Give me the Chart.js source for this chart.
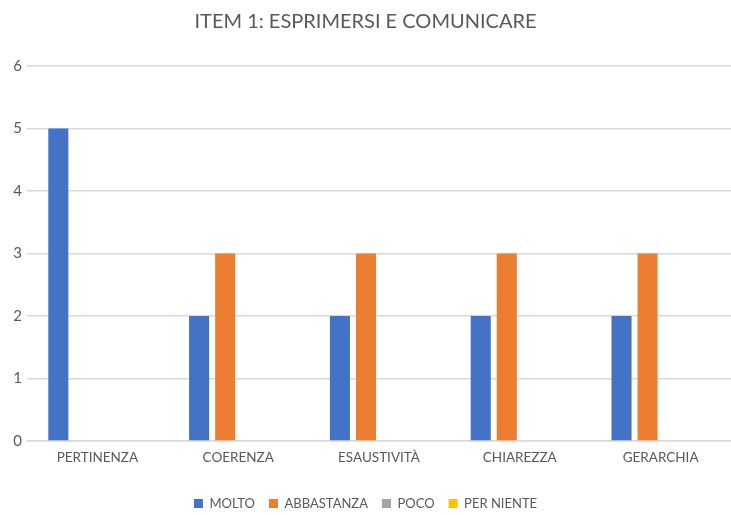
<!DOCTYPE html>
<html>
<head>
<meta charset="utf-8">
<script src="https://cdn.jsdelivr.net/npm/chart.js@4"></script>
<style>
  html, body { margin: 0; padding: 0; background: #fff; overflow: hidden; }
  #wrap { width: 731px; height: 515px; }
</style>
</head>
<body>
<div id="wrap"><canvas id="chart" width="731" height="515"></canvas></div>
<script>
const categories = ['PERTINENZA', 'COERENZA', 'ESAUSTIVITÀ', 'CHIAREZZA', 'GERARCHIA'];
const molto = [5, 2, 2, 2, 2];
const abbastanza = [0, 3, 3, 3, 3];
const poco = [0, 0, 0, 0, 0];
const perNiente = [0, 0, 0, 0, 0];
const yTicks = [0, 1, 2, 3, 4, 5, 6];

const textColor = '#595959';
const fontName = 'Lato, "Open Sans", sans-serif';

const ctx = document.getElementById('chart');

new Chart(ctx, {
    type: 'bar',
    data: {
        labels: categories,
        datasets: [
            { label: 'MOLTO', data: molto, backgroundColor: '#4472C4' },
            { label: 'ABBASTANZA', data: abbastanza, backgroundColor: '#ED7D31' },
            { label: 'POCO', data: poco, backgroundColor: '#A5A5A5' },
            { label: 'PER NIENTE', data: perNiente, backgroundColor: '#FFC000' }
        ]
    },
    options: {
        responsive: false,
        animation: false,
        events: [],
        categoryPercentage: 0.74,
        barPercentage: 0.77,
        layout: { padding: { left: 0, right: 0, top: 10, bottom: -5 } },
        scales: {
            x: {
                grid: { display: false, drawTicks: false },
                border: { display: true, color: '#D9D9D9', width: 1.5 },
                ticks: { color: textColor, font: { family: fontName, size: 13.5 }, padding: 9, maxRotation: 0 },
                afterFit: (scale) => { scale.height = 42; }
            },
            y: {
                min: 0,
                max: 6,
                afterBuildTicks: (scale) => { scale.ticks = yTicks.map(v => ({ value: v })); },
                afterFit: (scale) => { scale.width = 27; },
                grid: { color: '#D9D9D9', lineWidth: 1.5, drawTicks: false },
                border: { display: false },
                ticks: { color: textColor, font: { family: fontName, size: 15 }, padding: 5 }
            }
        },
        plugins: {
            title: {
                display: true,
                text: 'ITEM 1: ESPRIMERSI E COMUNICARE',
                color: textColor,
                font: { family: fontName, size: 20, weight: 'normal' },
                padding: { top: 0, bottom: 32 }
            },
            legend: {
                position: 'bottom',
                labels: {
                    color: textColor,
                    font: { family: fontName, size: 13 },
                    boxWidth: 9,
                    boxHeight: 9,
                    padding: 14
                }
            },
            tooltip: { enabled: false }
        }
    }
});
</script>
</body>
</html>
